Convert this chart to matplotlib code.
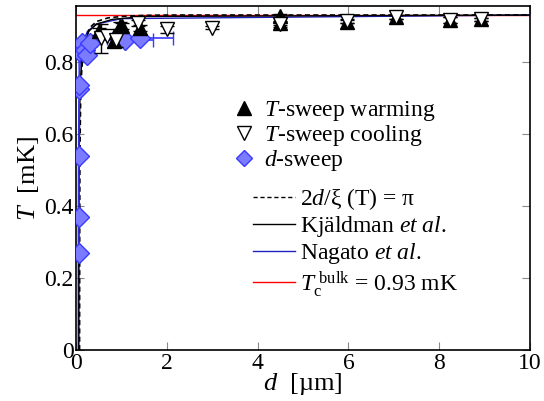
import matplotlib
matplotlib.use("Agg")
import matplotlib.pyplot as plt
from matplotlib.ticker import MultipleLocator
from matplotlib.lines import Line2D

plt.rcParams['font.family'] = ['Liberation Serif', 'DejaVu Serif']
plt.rcParams['mathtext.fontset'] = 'custom'
plt.rcParams['mathtext.rm'] = 'Liberation Serif'
plt.rcParams['mathtext.it'] = 'Liberation Serif:italic'

# T-sweep warming (filled up triangles)
warm_d = [0.50, 0.83, 0.97, 1.01, 1.41, 4.5, 4.5, 5.97, 7.06, 8.24, 8.93]
warm_T = [0.885, 0.857, 0.90, 0.90, 0.895, 0.927, 0.907, 0.912, 0.925, 0.917, 0.918]
warm_err = [0.01, 0.015, 0.01, 0.008, 0.008, 0.006, 0.006, 0.005, 0.005, 0.008, 0.005]

# T-sweep cooling (open down triangles)
cool_d = [0.55, 0.68, 0.88, 1.37, 2.00, 2.99, 4.5, 5.97, 7.06, 8.24, 8.93]
cool_T = [0.865, 0.872, 0.862, 0.908, 0.890, 0.895, 0.904, 0.914, 0.925, 0.916, 0.918]
cool_err = [0.04, 0.008, 0.02, 0.008, 0.01, 0.005, 0.006, 0.005, 0.005, 0.008, 0.005]

# d-sweep (blue diamonds)
dsw_d = [0.06, 0.06, 0.06, 0.07, 0.07, 0.06, 0.13, 0.20, 0.24, 0.31, 1.08, 1.41]
dsw_T = [0.27, 0.37, 0.54, 0.725, 0.735, 0.83, 0.853, 0.834, 0.82, 0.853, 0.862, 0.867]
dsw_xerr = [0, 0, 0, 0, 0, 0, 0, 0, 0, 0, 0.62, 0.72]

# 2d/xi(T) = pi curve
pi_d = [0.075, 0.078, 0.082, 0.09, 0.10, 0.12, 0.15, 0.20, 0.30, 0.45, 0.70, 1.0, 1.5, 2.0, 10.0]
pi_T = [0.0, 0.3, 0.5, 0.62, 0.70, 0.77, 0.82, 0.86, 0.895, 0.912, 0.922, 0.926, 0.929, 0.93, 0.93]

# Kjaldman et al. (black solid)
kj_d = [0.06, 0.062, 0.066, 0.072, 0.08, 0.10, 0.13, 0.18, 0.28, 0.45, 0.8, 1.5, 10.0]
kj_T = [0.0, 0.3, 0.5, 0.6, 0.68, 0.76, 0.81, 0.85, 0.885, 0.905, 0.918, 0.926, 0.93]

# Nagato et al. (blue solid)
na_d = [0.045, 0.047, 0.05, 0.055, 0.062, 0.075, 0.10, 0.15, 0.25, 0.45, 1.0, 10.0]
na_T = [0.0, 0.3, 0.5, 0.62, 0.70, 0.77, 0.82, 0.855, 0.885, 0.905, 0.92, 0.93]

Tc_bulk = 0.93

fig = plt.figure(figsize=(5.44, 4.01), dpi=100)
ax = fig.add_axes([0.14, 0.127, 0.834, 0.858])

ax.axhline(Tc_bulk, color='red', lw=1.0, zorder=1)
ax.plot(na_d, na_T, color='#2020c0', lw=1.0, zorder=2)
ax.plot(kj_d, kj_T, color='black', lw=1.0, zorder=2)
ax.plot(pi_d, pi_T, color='black', lw=1.2, ls=(0, (3, 2)), zorder=2)

ax.errorbar(dsw_d, dsw_T, xerr=dsw_xerr, fmt='D', color='#3a3aff', mfc='#7b7bff',
            mec='#3a3aff', ms=10, capsize=5, elinewidth=1.2, zorder=3)
ax.plot(dsw_d[:7], dsw_T[:7], color='#3a3aff', lw=1.0, zorder=3)
ax.errorbar(warm_d, warm_T, yerr=warm_err, fmt='^', color='black', mfc='black',
            ms=10.5, capsize=5, elinewidth=1.0, zorder=4)
ax.errorbar(cool_d, cool_T, yerr=cool_err, fmt='v', color='black', mfc='white',
            mec='black', ms=10.5, capsize=5, elinewidth=1.0, zorder=4)

ax.set_xlim(0, 10)
ax.set_ylim(0, 0.955)
ax.xaxis.set_major_locator(MultipleLocator(2))
ax.xaxis.set_minor_locator(MultipleLocator(1))
ax.yaxis.set_major_locator(MultipleLocator(0.2))
ax.yaxis.set_minor_locator(MultipleLocator(0.1))
ax.tick_params(which='both', direction='in', top=True, right=True, color='#888888',
               labelsize=17, pad=2)
ax.tick_params(which='major', length=6)
ax.tick_params(which='minor', length=0)
ax.set_yticks([0, 0.2, 0.4, 0.6, 0.8])
ax.set_yticklabels(['0', '0.2', '0.4', '0.6', '0.8'])
for s in ax.spines.values():
    s.set_linewidth(1.2)

ax.set_xlabel(r'$d$  [µm]', fontsize=19, labelpad=-2)
ax.set_ylabel(r'$T$  [mK]', fontsize=19, labelpad=2)

h1 = [Line2D([], [], ls='none', marker='^', color='black', ms=10),
      Line2D([], [], ls='none', marker='v', mfc='white', mec='black', ms=10),
      Line2D([], [], ls='none', marker='D', mfc='#7b7bff', mec='#3a3aff', ms=8.5)]
l1 = ax.legend(h1, [r'$T$-sweep warming', r'$T$-sweep cooling', r'$d$-sweep'],
               loc='upper left', bbox_to_anchor=(225 / 544, 1 - 87 / 401),
               bbox_transform=fig.transFigure, frameon=False, fontsize=17,
               handlelength=0.6, handletextpad=0.55, labelspacing=0.0, borderpad=0,
               numpoints=1)
ax.add_artist(l1)

h2 = [Line2D([], [], color='black', lw=1.0, ls=(0, (3, 2))),
      Line2D([], [], color='black', lw=1.0),
      Line2D([], [], color='#2020c0', lw=1.0),
      Line2D([], [], color='red', lw=1.0)]
ax.legend(h2, [r'2$d$/ξ (T) = π', r'Kjäldman $et\ al.$', r'Nagato $et\ al.$',
               r'$T_{\mathrm{c}}^{\ \mathrm{bulk}}$ = 0.93 mK'],
          loc='upper left', bbox_to_anchor=(241 / 544, 1 - 174 / 401),
          bbox_transform=fig.transFigure, frameon=False, fontsize=17,
          handlelength=1.8, handletextpad=0.2, labelspacing=0.1, borderpad=0)

fig.savefig('out.png', dpi=100)
